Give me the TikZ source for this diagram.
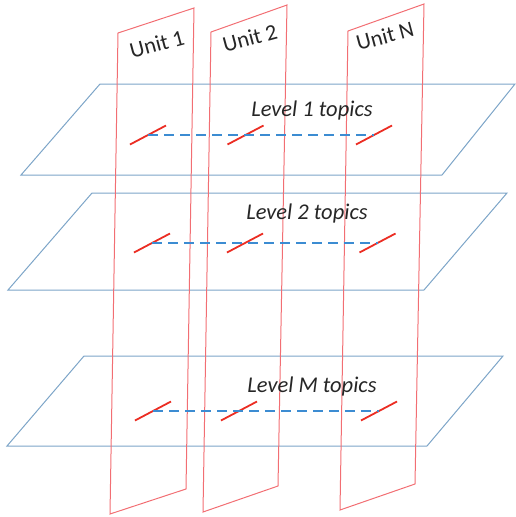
\documentclass[tikz,border=0pt]{standalone}
\usepackage{fontspec}
\setmainfont{Carlito}
\usetikzlibrary{calc}
\definecolor{planeblue}{RGB}{125,165,200}
\definecolor{panelred}{RGB}{242,110,115}
\definecolor{topicred}{RGB}{235,45,35}
\definecolor{linkblue}{RGB}{60,140,210}
\begin{document}
\begin{tikzpicture}[x=1pt,y=-1pt,
  plane/.style={draw=planeblue, line width=1pt, line join=miter},
  unitpanel/.style={draw=panelred, line width=1pt},
  topic/.style={draw=topicred, line width=1.8pt},
  link/.style={draw=linkblue, line width=2pt, dash pattern=on 10pt off 6pt},
  lbl/.style={font=\fontsize{22.5}{26}\selectfont\itshape, text=black!85, inner sep=0pt},
  ulbl/.style={font=\fontsize{22.5}{26}\selectfont, rotate=15, text=black!85, inner sep=0pt}]
\useasboundingbox (0,0) rectangle (516,517);
% planes
\draw[plane] (100,84) -- (515,84) -- (442,175) -- (21,175) -- cycle;
\draw[plane] (92,193) -- (507,193) -- (424,290) -- (8,290) -- cycle;
\draw[plane] (84,356) -- (503,356) -- (427,446) -- (7,446) -- cycle;
% unit panels
\draw[unitpanel] (118,33) -- (194,8) -- (186,489) -- (110,514) -- cycle;
\draw[unitpanel] (211,32) -- (287,5) -- (278,486) -- (203,512) -- cycle;
\draw[unitpanel] (348,31) -- (424,4) -- (415,484) -- (340,510) -- cycle;
% unit labels
\node[ulbl] (u1) at (157,44) {Unit 1};
\node[ulbl] (u2) at (250,38) {Unit 2};
\node[ulbl] (un) at (385,36) {Unit N};
% level labels
\node[lbl] (l1) at (312,110) {Level 1 topics};
\node[lbl] (l2) at (307,213) {Level 2 topics};
\node[lbl] (lm) at (312,386) {Level M topics};
% topics
\foreach \nm/\x/\y in {a1/148/135, b1/245.5/135, c1/374/135,
                       a2/152/243, b2/245/243, c2/377.5/243,
                       a3/153/411, b3/239/411, c3/379/411}{
  \coordinate (\nm) at (\x,\y);
  \draw[topic] ($(\nm)+(-18,9.5)$) -- ($(\nm)+(18,-9.5)$);
}
\draw[link] (a1) -- (c1);
\draw[link] (a2) -- (c2);
\draw[link] (a3) -- (c3);
\end{tikzpicture}
\end{document}
